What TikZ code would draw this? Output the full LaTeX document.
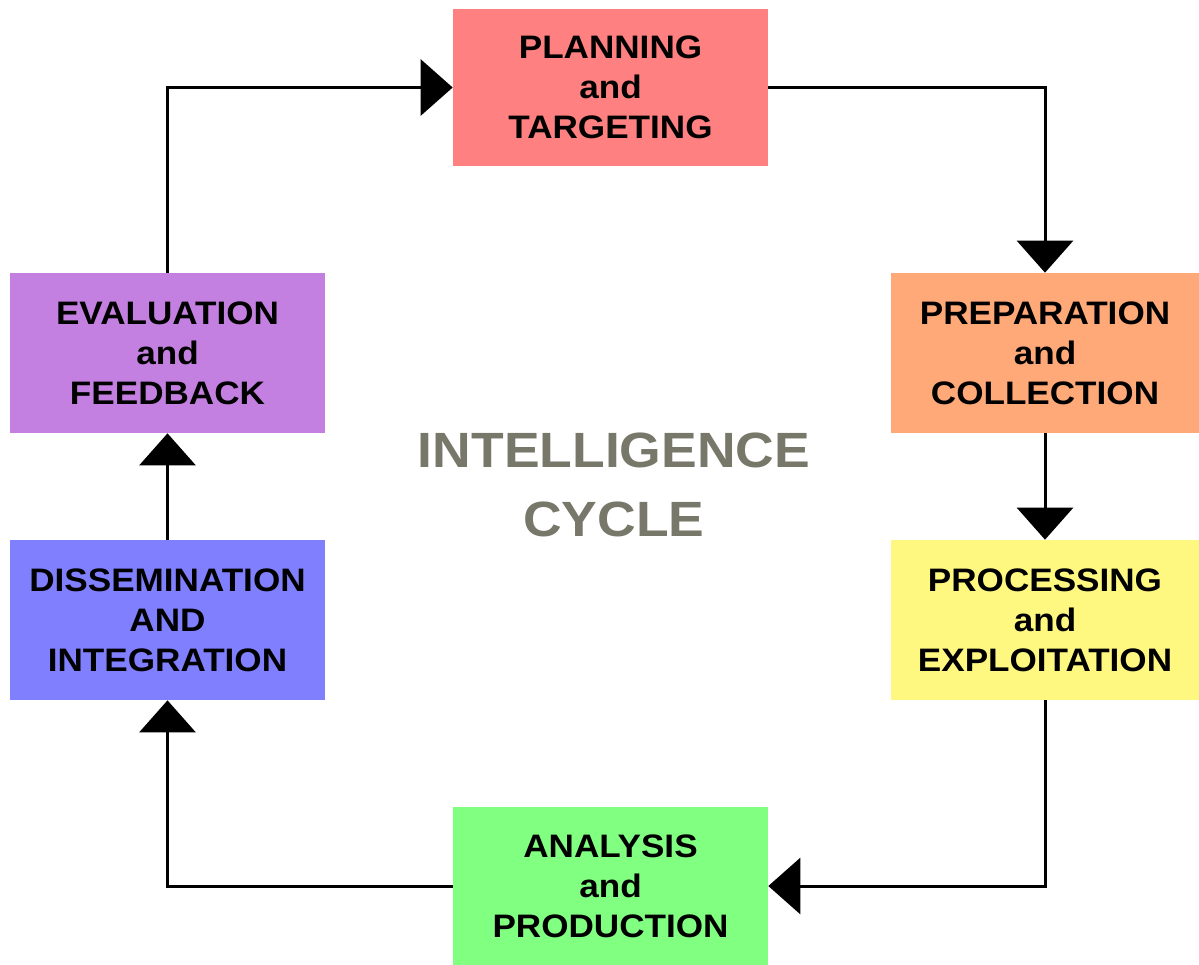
\documentclass[tikz,border=0pt]{standalone}
\usepackage{fontspec}
\setmainfont{Liberation Sans}[FakeStretch=1.08]
\usepackage{xcolor}
\usepackage{tikz}
\usetikzlibrary{arrows.meta,positioning,calc}
\definecolor{prepcolor}{HTML}{FFA878}
\definecolor{evalcolor}{HTML}{C480E0}
\definecolor{cyclegray}{HTML}{78786A}

\begin{document}
\begin{tikzpicture}[
    x=0.02cm, y=-0.02cm,
    stagenode/.style={align=center, font=\fontsize{18.5}{22.8}\selectfont\bfseries, minimum width=6.3cm, minimum height=3.15cm, inner sep=0pt},
    sidenode/.style={stagenode, minimum width=6.16cm, minimum height=3.2cm},
    cyclelabel/.style={align=center, font=\fontsize{28.2}{31}\selectfont\bfseries, text=cyclegray},
    flow/.style={-{Triangle[length=0.64cm, width=1.12cm]}, line width=1.7pt},
    >=Stealth
]
    \useasboundingbox (0,0) rectangle (1199,964);

    % Stages
    \node[stagenode, fill=red!50] (plan) at (610.5,87.5) {PLANNING\\and\\TARGETING};
    \node[sidenode, fill=prepcolor] (prep) at (1045,353) {PREPARATION\\and\\COLLECTION};
    \node[sidenode, fill=yellow!50] (proc) at (1045,620) {PROCESSING\\and\\EXPLOITATION};
    \node[stagenode, fill=green!50] (anal) at (610.5,886) {ANALYSIS\\and\\PRODUCTION};
    \node[sidenode, minimum width=6.3cm, fill=blue!50] (diss) at (167.5,620) {DISSEMINATION\\AND\\INTEGRATION};
    \node[sidenode, minimum width=6.3cm, fill=evalcolor] (eval) at (167.5,353) {EVALUATION\\and\\FEEDBACK};

    % Centre title
    \node[cyclelabel] (title) at (614,485) {INTELLIGENCE\\[0.28cm]CYCLE};

    % Cycle
    \draw[flow] (eval.north) |- (plan.west);
    \draw[flow] (plan.east) -| (prep.north);
    \draw[flow] (prep) -- (proc);
    \draw[flow] (proc.south) |- (anal.east);
    \draw[flow] (anal.west) -| (diss.south);
    \draw[flow] (diss) -- (eval);

\end{tikzpicture}
\end{document}
